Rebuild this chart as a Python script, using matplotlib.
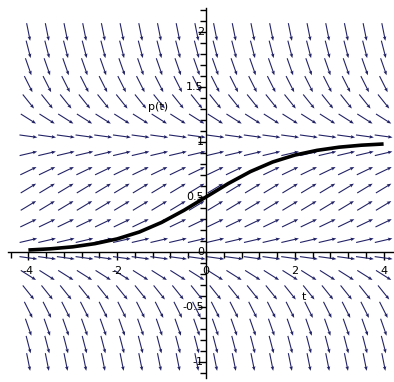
import numpy as np
import matplotlib
matplotlib.use("Agg")
import matplotlib.pyplot as plt

# direction-field grid (20 x 20)
t_grid = np.linspace(-4, 4, 20)
p_rows = [-1.0, -0.842, -0.684, -0.526, -0.368, -0.211, -0.053, 0.105, 0.263, 0.421,
          0.579, 0.737, 0.895, 1.053, 1.211, 1.368, 1.526, 1.684, 1.842, 2.0]
row_slopes = [-2.0, -1.551, -1.152, -0.803, -0.504, -0.255, -0.055, 0.094, 0.194, 0.244,
              0.244, 0.194, 0.094, -0.055, -0.255, -0.504, -0.803, -1.152, -1.551, -2.0]

# solution curve
sol_t = [-4, -3.5, -3, -2.5, -2, -1.5, -1, -0.5, 0, 0.5, 1, 1.5, 2, 2.5, 3, 3.5, 4]
sol_p = [0.018, 0.029, 0.047, 0.076, 0.119, 0.182, 0.269, 0.378, 0.5, 0.622, 0.731,
         0.818, 0.881, 0.924, 0.953, 0.971, 0.982]

x_ticks = [-4, -2, 0, 2, 4]
y_ticks = [-1, -0.5, 0, 0.5, 1, 1.5, 2]
y_ticklabels = ["-1", "-0.5", "0", "0.5", "1", "1.5", "2"]

W, H, DPI = 394, 382, 100
fig = plt.figure(figsize=(W / DPI, H / DPI), dpi=DPI)
ax = fig.add_axes([0, 0, 1, 1])
x0, sx = 206.0, 44.4   # pixel of t=0, px per unit
y0, sy = 252.0, 110.0  # pixel (from top) of p=0, px per unit
xlim = ((0 - x0) / sx, (W - x0) / sx)
ylim = ((y0 - H) / sy, y0 / sy)
ax.set_xlim(*xlim)
ax.set_ylim(*ylim)

# arrows: fixed display length
T, P = np.meshgrid(t_grid, p_rows)
S = np.repeat(np.array(row_slopes)[:, None], len(t_grid), axis=1)
U = np.ones_like(S) * sx
V = S * sy
L = np.hypot(U, V)
U, V = U / L, V / L
ax.quiver(T, P, U, V, angles='uv', scale_units='inches', scale=1 / 0.18,
          pivot='mid', units='dots', width=1.1, headwidth=3.2, headlength=4,
          headaxislength=3.5, color='#222266', zorder=2)

ax.plot(sol_t, sol_p, color='black', lw=2.6, solid_capstyle='butt', zorder=3)

# axes through origin
for s in ['top', 'right']:
    ax.spines[s].set_visible(False)
ax.spines['left'].set_position(('data', 0))
ax.spines['bottom'].set_position(('data', 0))
ax.spines['bottom'].set_bounds((8 - x0) / sx, (W - x0) / sx)
ax.spines['left'].set_bounds((y0 - 378) / sy, (y0 - 8) / sy)
for s in ['left', 'bottom']:
    ax.spines[s].set_linewidth(1.0)
    ax.spines[s].set_color('black')

ax.set_xticks(x_ticks)
ax.set_xticklabels([])
ax.set_yticks(y_ticks)
ax.set_yticklabels([])
ax.set_xticks(np.arange(-4.4, 4.3, 0.4), minor=True)
ax.set_yticks(np.arange(-1.1, 2.25, 0.1), minor=True)
ax.tick_params(axis='both', which='major', length=6, width=1, direction='out', color='black')
ax.tick_params(axis='both', which='minor', length=4, width=1, direction='out', color='black')

fs = 8
for t in x_ticks:
    ax.text(t, -0.17, str(t).replace('-', '-'), ha='center', va='center', fontsize=fs)
for p, lab in zip(y_ticks, y_ticklabels):
    ax.text(-0.05, p, lab, ha='right', va='center', fontsize=fs)
ax.text((158 - x0) / sx, (y0 - 107) / sy, 'p(t)', ha='center', va='center', fontsize=fs)
ax.text((304 - x0) / sx, (y0 - 297) / sy, 't', ha='center', va='center', fontsize=fs)

fig.savefig('out.png', dpi=DPI)
